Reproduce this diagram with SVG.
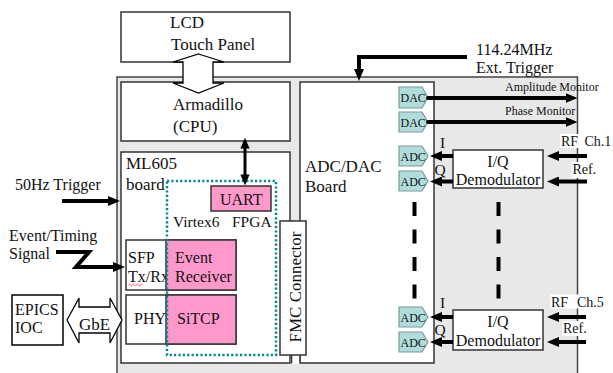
<svg xmlns="http://www.w3.org/2000/svg" width="613" height="373" viewBox="0 0 613 373">
<style>
text{font-family:"Liberation Serif","Times New Roman",serif;fill:#111}
.f17{font-size:17px}
.f16{font-size:16px}
.f15{font-size:15.5px}
.f14{font-size:14px}
.f12{font-size:12px}
.box{fill:#fff;stroke:#333;stroke-width:1.5}
.pink{fill:#ff99cc;stroke:#333;stroke-width:1.5}
.tag{fill:#b0dcdc;stroke:#7a9a9a;stroke-width:1.2}
.arr{fill:none;stroke:#000;stroke-width:4}
.hollow{fill:#fff;stroke:#000;stroke-width:1.3;stroke-linejoin:miter}
.dash{fill:none;stroke:#000;stroke-width:4;stroke-dasharray:14 13.5}
</style>
<defs>
<marker id="ah" viewBox="0 0 12 10" refX="5" refY="5" markerWidth="12" markerHeight="10" markerUnits="userSpaceOnUse" orient="auto-start-reverse">
<path d="M0,0 L12,5 L0,10 z" fill="#000"/>
</marker>
<marker id="ahs" viewBox="0 0 12 10" refX="5" refY="5" markerWidth="11" markerHeight="10" markerUnits="userSpaceOnUse" orient="auto-start-reverse">
<path d="M0,0 L12,5 L0,10 z" fill="#000"/>
</marker>
</defs>

<!-- outer chassis -->
<rect id="chassis" x="117" y="77" width="460.5" height="310" fill="#e8e8e8" stroke="#444" stroke-width="1.5"/>

<g id="lcd">
<rect class="box" x="121" y="12" width="169" height="50"/>
<text class="f17" x="170" y="28">LCD</text>
<text class="f17" x="171" y="50">Touch Panel</text>
</g>

<g id="armadillo">
<rect class="box" x="121" y="82" width="169" height="59"/>
<text class="f17" x="173" y="110">Armadillo</text>
<text class="f17" x="173" y="131.5">(CPU)</text>
</g>

<g id="ml605">
<rect class="box" x="121" y="152" width="169" height="211"/>
<text class="f17" x="126" y="169">ML605</text>
<text class="f17" x="126" y="190">board</text>
</g>

<g id="adcdac">
<rect class="box" x="300" y="82" width="134" height="281"/>
<text class="f17" x="305" y="172">ADC/DAC</text>
<text class="f17" x="305" y="192">Board</text>
</g>

<g id="fmc">
<rect x="290.8" y="354" width="9.2" height="9.8" fill="#fff" stroke="none"/>
<path d="M291.5,354 V363.5 M300,354 V363.5" stroke="#333" stroke-width="1.5" fill="none"/>
<rect class="box" x="280" y="221" width="26" height="134"/>
<text class="f17" transform="translate(300.5,287) rotate(-90)" text-anchor="middle">FMC Connector</text>
</g>

<g id="uart">
<rect class="pink" x="211" y="186" width="60" height="25"/>
<text class="f16" x="220" y="205">UART</text>
</g>

<g id="sfp">
<rect class="box" x="126" y="240" width="110" height="50"/>
<text class="f16" x="128" y="263">SFP</text>
<text class="f16" x="128" y="282">Tx/Rx</text>
<path d="M128.5,285 q1,-1.5 2,0 t2,0 t2,0 t2,0 t2,0 t2,0 t2,0" fill="none" stroke="#e03030" stroke-width="0.8"/>
</g>

<g id="event-receiver">
<rect class="pink" x="166" y="240" width="70" height="50"/>
<text class="f16" x="175" y="263">Event</text>
<text class="f16" x="175" y="282">Receiver</text>
</g>

<g id="phy">
<rect class="box" x="126" y="295" width="110" height="49"/>
<text class="f16" x="134" y="324">PHY</text>
</g>

<g id="sitcp">
<rect class="pink" x="166" y="295" width="70" height="49"/>
<text class="f16" x="177" y="324">SiTCP</text>
</g>

<g id="fpga">
<rect x="167" y="181" width="109" height="174" fill="none" stroke="#008b8b" stroke-width="2.5" stroke-dasharray="2.2 2.2"/>
<text class="f15" x="173" y="227">Virtex6<tspan x="232">FPGA</tspan></text>
</g>

<g id="epics">
<rect fill="#fff" stroke="#000" stroke-width="1.5" x="12" y="295" width="51" height="50"/>
<text class="f16" x="15" y="315">EPICS</text>
<text class="f16" x="15" y="333">IOC</text>
</g>

<g id="dac1"><path class="tag" d="M399,87 H422 L428,97.5 L422,108 H399 Z"/><text class="f12" x="400.5" y="102">DAC</text></g>
<g id="dac2"><path class="tag" d="M399,112 H422 L428,122 L422,132 H399 Z"/><text class="f12" x="400.5" y="126.5">DAC</text></g>
<g id="adc1"><path class="tag" d="M399,146 H422 L428,156 L422,166 H399 Z"/><text class="f12" x="400.5" y="160.5">ADC</text></g>
<g id="adc2"><path class="tag" d="M399,171 H422 L428,181 L422,191 H399 Z"/><text class="f12" x="400.5" y="185.5">ADC</text></g>
<g id="adc3"><path class="tag" d="M399,307 H422 L428,317 L422,327 H399 Z"/><text class="f12" x="400.5" y="321.5">ADC</text></g>
<g id="adc4"><path class="tag" d="M399,332 H422 L428,342 L422,352 H399 Z"/><text class="f12" x="400.5" y="346.5">ADC</text></g>

<g id="iq1">
<rect class="box" x="453" y="150" width="90" height="38"/>
<text class="f16" x="498" y="167" text-anchor="middle">I/Q</text>
<text class="f16" x="498" y="185" text-anchor="middle">Demodulator</text>
</g>

<g id="iq2">
<rect class="box" x="453" y="310" width="90" height="40"/>
<text class="f16" x="498" y="327" text-anchor="middle">I/Q</text>
<text class="f16" x="498" y="346" text-anchor="middle">Demodulator</text>
</g>

<g id="connectors">
<polygon class="hollow" points="198.5,54 224,62 213,62 213,83 224,83 198.5,93 173,83 183,83 183,62 173,62"/>
<polygon class="hollow" points="67,320 79,298 79,307 110,307 110,298 122,320 110,343 110,333 79,333 79,343"/>
<text class="f17" x="79" y="330">GbE</text>
<line x1="245" y1="144" x2="245" y2="179" stroke="#000" stroke-width="3" marker-start="url(#ahs)" marker-end="url(#ahs)"/>
<line class="arr" x1="62" y1="201" x2="113" y2="201" marker-end="url(#ah)"/>
<path class="arr" d="M56,252 H89 L76,267 H118" marker-end="url(#ah)"/>
<path class="arr" d="M467,57 H359 V74" marker-end="url(#ah)"/>
<line class="arr" x1="428" y1="98" x2="570.5" y2="98" stroke-linecap="round" marker-end="url(#ah)"/>
<line class="arr" x1="428" y1="122" x2="570.5" y2="122" stroke-linecap="round" marker-end="url(#ah)"/>
<line class="arr" x1="453" y1="156" x2="437" y2="156" marker-end="url(#ah)"/>
<line class="arr" x1="453" y1="181.5" x2="437" y2="181.5" marker-end="url(#ah)"/>
<line class="arr" x1="453" y1="317" x2="437" y2="317" marker-end="url(#ah)"/>
<line class="arr" x1="453" y1="342" x2="437" y2="342" marker-end="url(#ah)"/>
<line class="arr" x1="587" y1="156" x2="554" y2="156" marker-end="url(#ah)"/>
<line class="arr" x1="587" y1="181.5" x2="554" y2="181.5" marker-end="url(#ah)"/>
<line class="arr" x1="586" y1="317" x2="554" y2="317" marker-end="url(#ah)"/>
<line class="arr" x1="586" y1="342" x2="554" y2="342" marker-end="url(#ah)"/>
<line class="dash" x1="414.5" y1="202" x2="414.5" y2="299"/>
<line class="dash" x1="498.5" y1="202" x2="498.5" y2="299"/>
</g>

<g id="labels">
<text class="f16" x="15" y="190">50Hz Trigger</text>
<text class="f16" x="9" y="241">Event/Timing</text>
<text class="f16" x="9" y="259">Signal</text>
<text class="f16" x="476" y="55">114.24MHz</text>
<text class="f16" x="476" y="73">Ext. Trigger</text>
<text class="f12" x="505" y="91">Amplitude Monitor</text>
<text class="f12" x="505" y="115">Phase Monitor</text>
<text class="f15" x="440" y="148">I</text>
<text class="f15" x="434.5" y="175">Q</text>
<text class="f15" x="440" y="308">I</text>
<text class="f15" x="434.5" y="335">Q</text>
<rect x="560" y="134" width="53" height="14" fill="#fff"/>
<text class="f14" x="561" y="145.5">RF<tspan x="584.5">Ch.1</tspan></text>
<rect x="571.5" y="162" width="27" height="16" fill="#fff"/>
<text class="f14" x="572.5" y="174">Ref.</text>
<rect x="550" y="294.5" width="63" height="14" fill="#fff"/>
<text class="f14" x="551" y="306.5">RF<tspan x="577">Ch.5</tspan></text>
<rect x="562" y="321" width="29" height="15" fill="#fff"/>
<text class="f14" x="563" y="333">Ref.</text>
</g>
</svg>
